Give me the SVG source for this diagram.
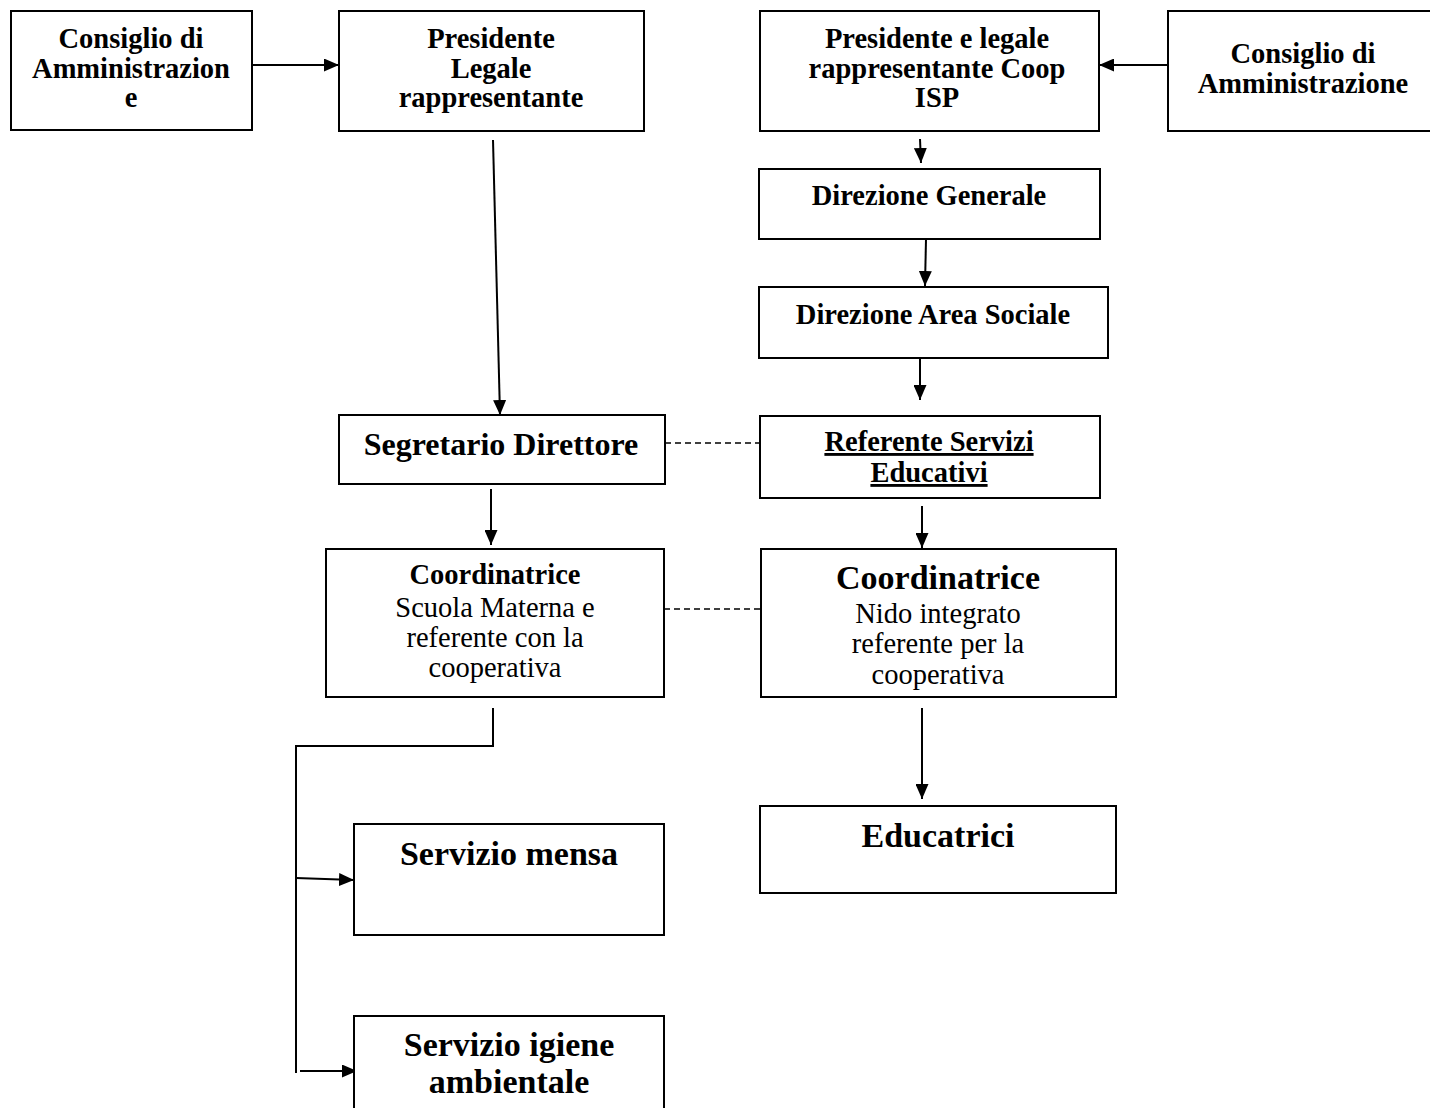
<svg xmlns="http://www.w3.org/2000/svg" width="1430" height="1108" viewBox="0 0 1430 1108">
<style>
.box{fill:#fff;stroke:#000;stroke-width:2}
.t{font-family:"Liberation Serif","DejaVu Serif",serif;text-anchor:middle;fill:#000}
.b{font-weight:bold}
.s21{font-size:28.5px}
.s24{font-size:32px}
.s27{font-size:34px}
.c{stroke:#000;stroke-width:2;fill:none}
.d{stroke:#000;stroke-width:1.5;stroke-dasharray:6,4;fill:none}
</style>
<defs>
<marker id="ah" markerWidth="15" markerHeight="13" refX="15" refY="6.5" orient="auto" markerUnits="userSpaceOnUse" viewBox="0 0 15 13">
<path d="M0,0 L15,6.5 L0,13 z" fill="#000"/>
</marker>
</defs>
<rect width="1430" height="1108" fill="#fff"/>
<g id="connectors">
<line class="c" x1="252" y1="65" x2="339" y2="65" marker-end="url(#ah)"/>
<line class="c" x1="1168" y1="65" x2="1099" y2="65" marker-end="url(#ah)"/>
<line class="c" x1="920" y1="139" x2="921" y2="163" marker-end="url(#ah)"/>
<line class="c" x1="926" y1="239" x2="925" y2="286" marker-end="url(#ah)"/>
<line class="c" x1="920" y1="357" x2="920" y2="400" marker-end="url(#ah)"/>
<line class="c" x1="493" y1="140" x2="500" y2="415" marker-end="url(#ah)"/>
<line class="d" x1="665" y1="443" x2="760" y2="443"/>
<line class="c" x1="491" y1="489" x2="491" y2="545" marker-end="url(#ah)"/>
<line class="c" x1="922" y1="506" x2="922" y2="548" marker-end="url(#ah)"/>
<line class="d" x1="664" y1="609" x2="760" y2="609"/>
<polyline class="c" points="493,708 493,746 296,746 296,1073"/>
<line class="c" x1="296" y1="878" x2="354" y2="880" marker-end="url(#ah)"/>
<line class="c" x1="300" y1="1071" x2="357" y2="1071" marker-end="url(#ah)"/>
<line class="c" x1="922" y1="708" x2="922" y2="799" marker-end="url(#ah)"/>
</g>
<g id="cda-left">
<rect class="box" x="11" y="11" width="241" height="119"/>
<text class="t b s21" x="131" y="48">Consiglio di</text>
<text class="t b s21" x="131" y="78">Amministrazion</text>
<text class="t b s21" x="131" y="107">e</text>
</g>
<g id="presidente-left">
<rect class="box" x="339" y="11" width="305" height="120"/>
<text class="t b s21" x="491" y="48">Presidente</text>
<text class="t b s21" x="491" y="78">Legale</text>
<text class="t b s21" x="491" y="107">rappresentante</text>
</g>
<g id="presidente-coop">
<rect class="box" x="760" y="11" width="339" height="120"/>
<text class="t b s21" x="937" y="48">Presidente e legale</text>
<text class="t b s21" x="937" y="78">rappresentante Coop</text>
<text class="t b s21" x="937" y="107">ISP</text>
</g>
<g id="cda-right">
<rect class="box" x="1168" y="11" width="270" height="120"/>
<text class="t b s21" x="1303" y="63">Consiglio di</text>
<text class="t b s21" x="1303" y="93">Amministrazione</text>
</g>
<g id="direzione-generale">
<rect class="box" x="759" y="169" width="341" height="70"/>
<text class="t b s21" x="929" y="205">Direzione Generale</text>
</g>
<g id="direzione-area-sociale">
<rect class="box" x="759" y="287" width="349" height="71"/>
<text class="t b s21" x="933" y="324">Direzione Area Sociale</text>
</g>
<g id="referente-servizi">
<rect class="box" x="760" y="416" width="340" height="82"/>
<text class="t b s21" x="929" y="451" text-decoration="underline">Referente Servizi</text>
<text class="t b s21" x="929" y="482" text-decoration="underline">Educativi</text>
</g>
<g id="segretario">
<rect class="box" x="339" y="415" width="326" height="69"/>
<text class="t b s24" x="501" y="455">Segretario Direttore</text>
</g>
<g id="coordinatrice-left">
<rect class="box" x="326" y="549" width="338" height="148"/>
<text class="t b s21" x="495" y="584">Coordinatrice</text>
<text class="t s21" x="495" y="617">Scuola Materna e</text>
<text class="t s21" x="495" y="647">referente con la</text>
<text class="t s21" x="495" y="677">cooperativa</text>
</g>
<g id="coordinatrice-right">
<rect class="box" x="761" y="549" width="355" height="148"/>
<text class="t b s27" x="938" y="589">Coordinatrice</text>
<text class="t s21" x="938" y="623">Nido integrato</text>
<text class="t s21" x="938" y="653">referente per la</text>
<text class="t s21" x="938" y="684">cooperativa</text>
</g>
<g id="servizio-mensa">
<rect class="box" x="354" y="824" width="310" height="111"/>
<text class="t b s27" x="509" y="865">Servizio mensa</text>
</g>
<g id="servizio-igiene">
<rect class="box" x="354" y="1016" width="310" height="100"/>
<text class="t b s27" x="509" y="1056">Servizio igiene</text>
<text class="t b s27" x="509" y="1093">ambientale</text>
</g>
<g id="educatrici">
<rect class="box" x="760" y="806" width="356" height="87"/>
<text class="t b s27" x="938" y="847">Educatrici</text>
</g>
</svg>
